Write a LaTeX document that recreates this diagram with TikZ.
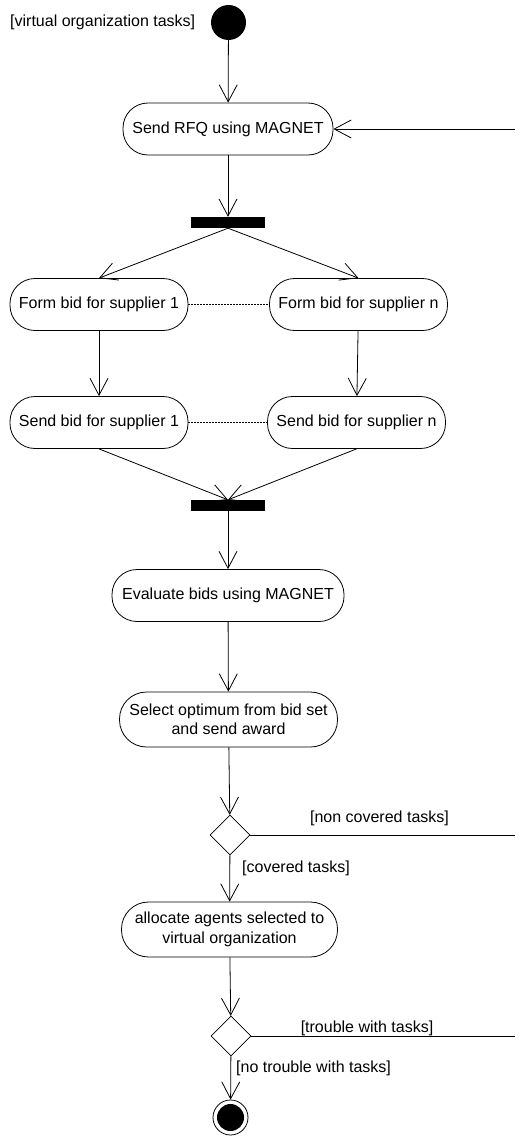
\documentclass[tikz,border=0pt]{standalone}
\usepackage{fontspec}
\setmainfont{Liberation Sans}
\usetikzlibrary{arrows.meta,shapes.geometric}
\begin{document}
\begin{tikzpicture}[x=1pt,y=-1pt,
    every node/.style = {font=\fontsize{16}{19.5}\selectfont},
    action/.style = {rectangle,draw,line width=0.8pt,rounded corners=25pt,minimum height=52pt,inner sep=0pt,align=center},
    action2/.style = {action,rounded corners=27pt,minimum height=55pt},
    bar/.style = {rectangle,fill=black,minimum width=74pt,minimum height=11pt,inner sep=0pt},
    decision/.style = {diamond,draw,line width=0.8pt,minimum size=40pt,inner sep=0pt,shape aspect=1},
    startnode/.style = {circle,fill=black,minimum size=35pt,inner sep=0pt},
    endnode/.style = {circle,draw,line width=0.8pt,minimum size=35pt,inner sep=0pt,
        path picture={\fill (path picture bounding box.center) circle (13.5pt);}},
    guard/.style = {inner sep=0pt},
    flow/.style = {draw,line width=0.8pt,-{Straight Barb[length=17pt,width=18pt,line width=0.8pt]}},
    link/.style = {draw,line width=0.8pt},
    same/.style = {draw,line width=0.8pt,dash pattern=on 2pt off 1pt}]
\useasboundingbox (0,0) rectangle (515,1137);
% start and request
\node[startnode] (start) at (228.5,22.5) {};
\node[guard,anchor=west] (vo) at (10,22) {[virtual organization tasks]};
\node[action,minimum width=210pt] (rfq) at (228,129) {Send RFQ using MAGNET};
\node[bar] (fork) at (228,222.5) {};
% bids for the suppliers
\foreach \k/\xa/\xb in {1/99/99, n/358.5/356.5}{
    \node[action,minimum width=178pt] (form\k) at (\xa,304.5) {Form bid for supplier \k};
    \node[action,minimum width=178pt] (send\k) at (\xb,422.5) {Send bid for supplier \k};
}
\node[bar] (join) at (228,505.5) {};
\node[action,minimum width=232pt] (eval) at (228,595.5) {Evaluate bids using MAGNET};
\node[action2,minimum width=218pt] (select) at (228.5,719.5) {Select optimum from bid set\\and send award};
\node[decision] (d1) at (230,835) {};
\node[action2,minimum width=216pt] (alloc) at (229.5,929.5) {allocate agents selected to\\virtual organization};
\node[decision] (d2) at (231,1036) {};
\node[endnode] (final) at (230.5,1117.5) {};
% guards
\node[guard] (g1) at (379.5,818) {[non covered tasks]};
\node[guard,anchor=west] (g2) at (242,868) {[covered tasks]};
\node[guard] (g3) at (367,1028) {[trouble with tasks]};
\node[guard,anchor=west] (g4) at (236,1068) {[no trouble with tasks]};
% loose ends at the right border
\coordinate (r0) at (515,129);
\coordinate (r1) at (515,835);
\coordinate (r2) at (515,1036);
% connectors
\path[flow] (start) -- (rfq);
\path[flow] (r0) -- (rfq.east);
\path[flow] (rfq) -- (fork);
\path[flow] (fork.south) -- (form1.north);
\path[flow] (fork.south) -- (formn.north);
\path[flow] (form1) -- (send1);
\path[flow] (formn) -- (sendn);
\path[same] (form1) -- (formn);
\path[same] (send1) -- (sendn);
\path[flow] (send1.south) -- (join.north);
\path[flow] (sendn.south) -- (join.north);
\path[flow] (join) -- (eval);
\path[flow] (eval) -- (select);
\path[flow] (select) -- (d1);
\path[link] (d1.east) -- (r1);
\path[flow] (d1) -- (alloc);
\path[flow] (alloc) -- (d2);
\path[link] (d2.east) -- (r2);
\path[flow] (d2) -- (final);
\end{tikzpicture}
\end{document}
